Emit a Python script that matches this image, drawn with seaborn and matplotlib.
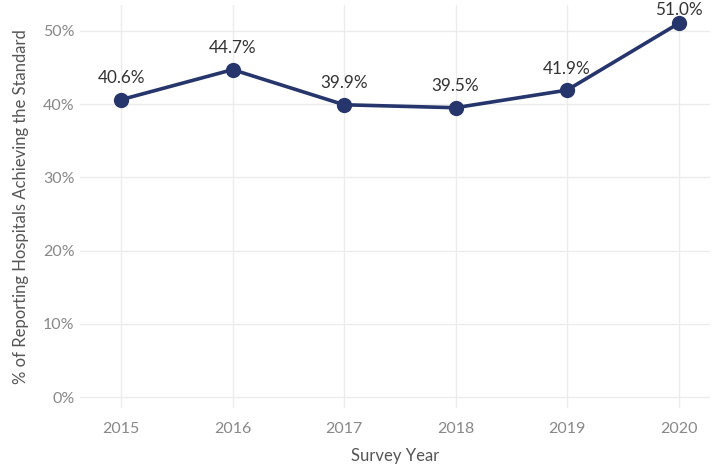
import pandas as pd
import matplotlib
matplotlib.use('Agg')
import matplotlib.pyplot as plt
import seaborn as sns
from matplotlib.ticker import FuncFormatter

# Data
years = [2015, 2016, 2017, 2018, 2019, 2020]
pct = [40.6, 44.7, 39.9, 39.5, 41.9, 51.0]
y_ticks = [0, 10, 20, 30, 40, 50]

df = pd.DataFrame({'year': years, 'pct': pct})

sns.set_style('white')
plt.rcParams['font.family'] = ['Lato', 'DejaVu Sans']

fig = plt.figure(figsize=(7.14, 4.69), dpi=100)
ax = fig.add_axes([0.112, 0.13, 0.882, 0.859])

line_color = '#26356b'
sns.lineplot(x='year', y='pct', data=df, ax=ax, color=line_color, linewidth=2.6,
             marker='o', markersize=11, markeredgewidth=0, zorder=3)

# Value labels above each point (last one squeezed in under the top edge)
for x, y in zip(years, pct):
    off = 9.5 if x == years[-1] else 15.5
    ax.annotate(f'{y:.1f}%', (x, y), xytext=(0, off), textcoords='offset points',
                ha='center', va='center', fontsize=12.3, color='#333333')

ax.set_xlim(2014.63, 2020.28)
ax.set_ylim(-1.5, 53.5)
ax.set_xticks(years)
ax.set_yticks(y_ticks)
ax.yaxis.set_major_formatter(FuncFormatter(lambda v, p: f'{v:.0f}%'))

ax.grid(True, color='#ececec', linewidth=1)
ax.set_axisbelow(True)
for s in ax.spines.values():
    s.set_visible(False)

ax.tick_params(axis='both', length=0, labelsize=11.5, labelcolor='#888888')
ax.tick_params(axis='x', pad=10)
ax.tick_params(axis='y', pad=4)

ax.set_xlabel('Survey Year', fontsize=12, color='#555555', labelpad=9)
ax.set_ylabel('% of Reporting Hospitals Achieving the Standard', fontsize=12,
              color='#555555', labelpad=10)

fig.savefig('out.png', dpi=100)
